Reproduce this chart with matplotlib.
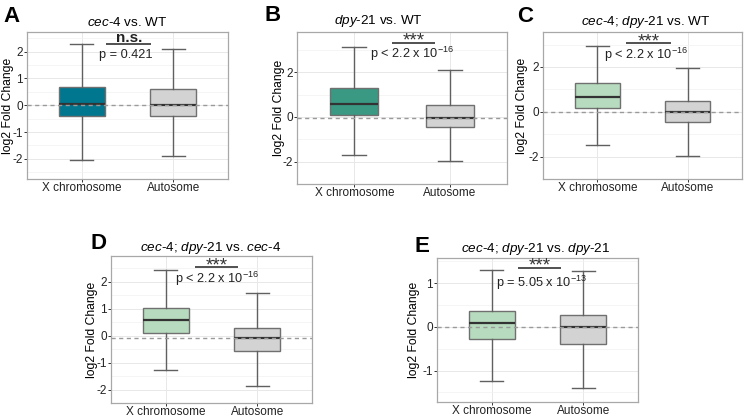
import matplotlib
matplotlib.use('Agg')
import matplotlib.pyplot as plt
import numpy as np

plt.rcParams['font.family'] = ['Liberation Sans', 'DejaVu Sans']
plt.rcParams['mathtext.fontset'] = 'custom'
plt.rcParams['mathtext.rm'] = 'Liberation Sans'
plt.rcParams['mathtext.it'] = 'Liberation Sans:italic'
plt.rcParams['axes.unicode_minus'] = False

# data
categories = ['X chromosome', 'Autosome']
panel_ids = ['A', 'B', 'C', 'D', 'E']
titles = [r'$\mathit{cec}$-$\mathit{4}$ vs. WT',
          r'$\mathit{dpy}$-$\mathit{21}$ vs. WT',
          r'$\mathit{cec}$-$\mathit{4}$; $\mathit{dpy}$-$\mathit{21}$ vs. WT',
          r'$\mathit{cec}$-$\mathit{4}$; $\mathit{dpy}$-$\mathit{21}$ vs. $\mathit{cec}$-$\mathit{4}$',
          r'$\mathit{cec}$-$\mathit{4}$; $\mathit{dpy}$-$\mathit{21}$ vs. $\mathit{dpy}$-$\mathit{21}$']

x_med = [0.03, 0.59, 0.68, 0.58, 0.08]
x_q1 = [-0.42, 0.10, 0.17, 0.09, -0.28]
x_q3 = [0.67, 1.31, 1.27, 1.03, 0.36]
x_lo = [-2.05, -1.72, -1.47, -1.26, -1.24]
x_hi = [2.30, 3.13, 2.92, 2.44, 1.31]

auto_med = [0.01, -0.03, -0.03, -0.10, -0.01]
auto_q1 = [-0.40, -0.45, -0.47, -0.58, -0.38]
auto_q3 = [0.60, 0.55, 0.47, 0.27, 0.28]
auto_lo = [-1.88, -1.96, -1.96, -1.87, -1.40]
auto_hi = [2.09, 2.08, 1.96, 1.57, 1.29]

sig_labels = ['n.s.', '***', '***', '***', '***']
p_labels = ['p = 0.421',
            r'p < 2.2 x 10$^{-16}$',
            r'p < 2.2 x 10$^{-16}$',
            r'p < 2.2 x 10$^{-16}$',
            r'p = 5.05 x 10$^{-13}$']
bar_x0 = [1.27, 1.39, 1.32, 1.32, 1.29]
bar_x1 = [1.76, 1.85, 1.81, 1.79, 1.76]
bar_y = [2.30, 3.33, 3.07, 2.54, 1.36]
p_x = [1.48, 1.60, 1.54, 1.56, 1.54]
p_y = [1.88, 2.80, 2.54, 2.11, 1.02]

ylims = [(-2.75, 2.73), (-2.78, 3.80), (-2.56, 3.56), (-2.32, 2.96), (-1.72, 1.58)]
yticks = [[-2, -1, 0, 1, 2], [-2, 0, 2], [-2, 0, 2], [-2, -1, 0, 1, 2], [-1, 0, 1]]

x_colors = ['#00768f', '#3a9983', '#b7dbbe', '#b7dbbe', '#b7dbbe']
auto_color = '#d3d3d3'

# layout in pixels: left, top, right, bottom
W, H = 746, 417
boxes_px = [(27, 32, 228, 179), (297, 32, 507, 184), (543, 32, 742, 179),
            (111, 256, 312, 403), (437, 258, 638, 402)]
label_px = [(3, 22), (264, 21), (517, 22), (91, 249), (414, 252)]
title_px = [(127, 22), (378, 21), (646, 22), (211, 248), (536, 249)]
ylab_px = [8, 279, 522, 92, 414]


def rect(l, t, r, b):
    return [l / W, 1 - b / H, (r - l) / W, (b - t) / H]


fig = plt.figure(figsize=(W / 100, H / 100), dpi=100)

for i in range(5):
    l, t, r, b = boxes_px[i]
    ax = fig.add_axes(rect(l, t, r, b))
    stats = [
        dict(med=x_med[i], q1=x_q1[i], q3=x_q3[i], whislo=x_lo[i], whishi=x_hi[i], fliers=[]),
        dict(med=auto_med[i], q1=auto_q1[i], q3=auto_q3[i], whislo=auto_lo[i], whishi=auto_hi[i], fliers=[]),
    ]
    bp = ax.bxp(stats, positions=[1, 2], widths=0.5, capwidths=0.25, patch_artist=True,
                showfliers=False,
                boxprops=dict(edgecolor='#707070', linewidth=1.0),
                whiskerprops=dict(color='#606060', linewidth=1.0),
                capprops=dict(color='#606060', linewidth=1.0),
                medianprops=dict(color='#333333', linewidth=1.6),
                zorder=3)
    bp['boxes'][0].set_facecolor(x_colors[i])
    bp['boxes'][1].set_facecolor(auto_color)

    ax.axhline(auto_med[i], color='#9a9a9a', linestyle=(0, (3, 2.5)), linewidth=1.0, zorder=4)

    ax.set_xlim(0.4, 2.6)
    ax.set_ylim(*ylims[i])
    ax.set_xticks([1, 2])
    ax.set_xticklabels(categories)
    ax.set_yticks(yticks[i])
    step = yticks[i][1] - yticks[i][0]
    minor = np.arange(yticks[i][0] - step / 2, ylims[i][1], step)
    ax.set_yticks(minor, minor=True)
    ax.tick_params(axis='y', which='minor', length=0)
    ax.grid(True, which='major', color='#e8e8e8', linewidth=0.7, zorder=0)
    ax.grid(True, which='minor', axis='y', color='#f2f2f2', linewidth=0.5, zorder=0)
    ax.set_axisbelow(True)
    ax.tick_params(axis='both', which='major', length=2, width=0.7, color='#333333',
                   labelsize=8.5, labelcolor='#222222', pad=1)
    ax.tick_params(axis='x', pad=0.3)
    for s in ax.spines.values():
        s.set_color('#a8a8a8')
        s.set_linewidth(0.9)
    ax.set_ylabel('log2 Fold Change', fontsize=8.7)
    ax.yaxis.label.set_va('center')
    ax.yaxis.set_label_coords((ylab_px[i] - l) / (r - l), 0.5)

    # significance bar
    ax.plot([bar_x0[i], bar_x1[i]], [bar_y[i], bar_y[i]], color='#222222', linewidth=1.1,
            solid_capstyle='butt', zorder=5)
    xm = (bar_x0[i] + bar_x1[i]) / 2
    if sig_labels[i] == 'n.s.':
        ax.annotate(sig_labels[i], xy=(xm, bar_y[i]), xytext=(0, 0.8), textcoords='offset points',
                    ha='center', va='baseline', fontsize=11, fontweight='bold', color='#222222')
    else:
        ax.annotate(sig_labels[i], xy=(xm, bar_y[i]), xytext=(0, -2.2), textcoords='offset points',
                    ha='center', va='baseline', fontsize=13.5, fontweight='light', color='#333333')
    ax.text(p_x[i], p_y[i], p_labels[i], ha='center', va='center', fontsize=9.2, color='#222222')

    fig.text(label_px[i][0] / W, 1 - label_px[i][1] / H, panel_ids[i], fontsize=16,
             fontweight='bold', ha='left', va='baseline')
    fig.text(title_px[i][0] / W, 1 - title_px[i][1] / H, titles[i], fontsize=9.7,
             ha='center', va='center')

fig.savefig('out.png', dpi=100)
